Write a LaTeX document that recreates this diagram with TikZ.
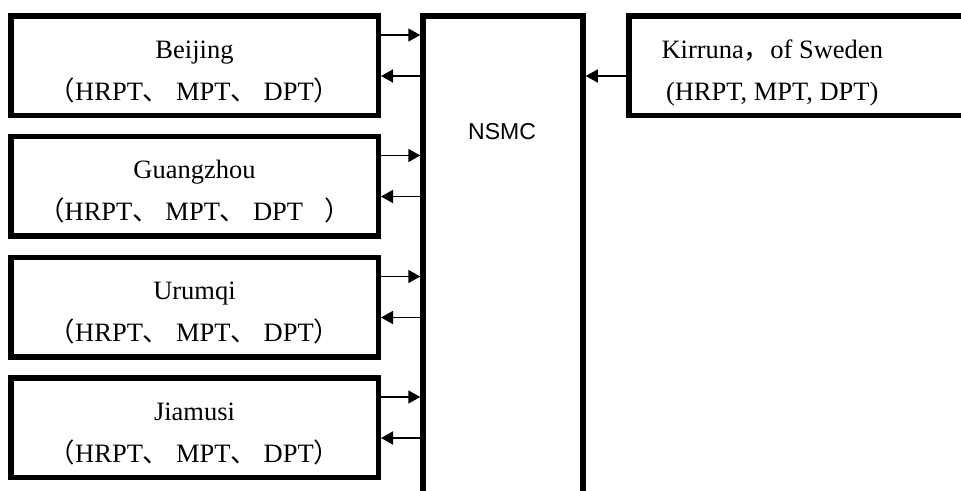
\documentclass[tikz,border=0pt]{standalone}
\usepackage{fontspec}
\setmainfont{Liberation Serif}
\setsansfont{Liberation Sans}
\newfontfamily\cjkfont{Noto Sans CJK SC}
\usetikzlibrary{arrows.meta}
\newcommand\zlp{\makebox[1em][r]{\cjkfont （}}
\newcommand\zrp{\makebox[1em][l]{\cjkfont ）}}
\newcommand\zdun{\makebox[1em][l]{\cjkfont 、}\ }
\newcommand\zcm{\makebox[1em][l]{\cjkfont ，}}
\begin{document}
\begin{tikzpicture}[x=1pt,y=-1pt,
 stn/.style={draw, line width=5.5pt, minimum width=367.5pt, minimum height=99.5pt,
   inner sep=0pt, align=center, font=\fontsize{26.5}{42}\selectfont,
   text height=74pt, text depth=5pt},
 arr/.style={line width=1.6pt, -{Triangle[length=12pt,width=13pt]}},
 wall/.style={line width=5.5pt, line join=miter}]
\useasboundingbox (0,0) rectangle (961,490);
% stations
\node[stn] (bj) at (194.5,65.5) {Beijing\\\zlp HRPT\zdun MPT\zdun DPT\zrp};
\node[stn] (gz) at (194.5,186) {Guangzhou\\\zlp HRPT\zdun MPT\zdun DPT\hspace{0.8em}\zrp};
\node[stn] (ur) at (194.5,307) {Urumqi\\\zlp HRPT\zdun MPT\zdun DPT\zrp};
\node[stn] (jm) at (194.5,427.5) {Jiamusi\\\zlp HRPT\zdun MPT\zdun DPT\zrp};
% NSMC
\node[minimum width=160pt, minimum height=480pt, anchor=north, inner sep=0pt, outer sep=0pt] (nsmc) at (503,15.75) {};
\draw[wall] (nsmc.south west) -- (nsmc.north west) -- (nsmc.north east) -- (nsmc.south east);
\node[font=\sffamily\fontsize{23}{27}\selectfont, inner sep=0pt] (nsmclabel) at (502,132) {NSMC};
% Kirruna
\node[stn, draw=none, minimum width=287pt, outer sep=0pt] (kir) at (772.25,65.5) {Kirruna\zcm of Sweden\\(HRPT, MPT, DPT)};
\draw[wall] ([xshift=250pt]kir.north east) -- (kir.north west) -- (kir.south west) -- ([xshift=250pt]kir.south east);
% arrows
\foreach \s in {bj,gz,ur,jm}{
  \coordinate (\s in) at ([yshift=30.5pt]\s.east);
  \coordinate (\s out) at ([yshift=-10.5pt]\s.east);
  \draw[arr, shorten >=2.75pt] (\s in) -- (\s in -| nsmc.west);
  \draw[arr, shorten <=2.75pt] (\s out -| nsmc.west) -- (\s out);
}
\coordinate (kirin) at ([yshift=-10.5pt]kir.west);
\draw[arr, shorten <=2.75pt, shorten >=2.75pt] (kirin) -- (kirin -| nsmc.east);
\end{tikzpicture}
\end{document}
